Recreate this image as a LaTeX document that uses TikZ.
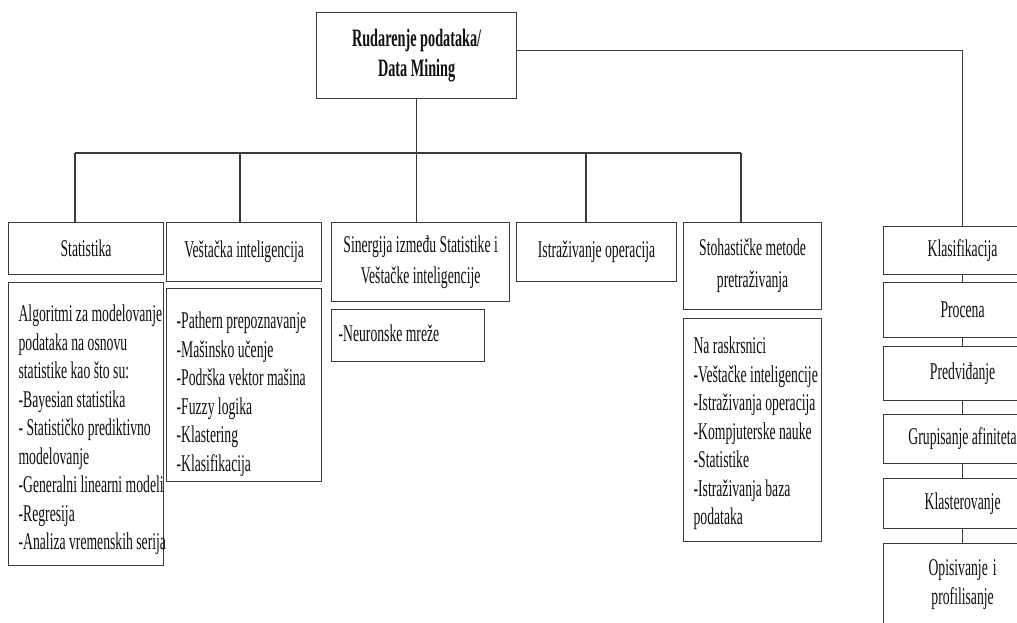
\documentclass[tikz,border=0pt]{standalone}
\usepackage{fontspec}
\setmainfont{Liberation Serif}[FakeStretch=0.57]
\definecolor{linec}{RGB}{58,58,58}
\definecolor{ink}{RGB}{15,15,15}
\begin{document}
\begin{tikzpicture}[x=1pt,y=-1pt,
  every node/.style={font=\fontsize{24}{28.5}\selectfont, text=ink},
  box/.style={draw=linec, line width=1.2pt, anchor=north west, inner sep=0pt, align=center,
    execute at begin node={\spaceskip=0pt\xspaceskip=0pt}},
  listbox/.style={draw=linec, line width=1.2pt, anchor=north west, inner sep=0pt, align=left,
    execute at begin node={\spaceskip=0pt\xspaceskip=0pt\leftskip=10pt\rightskip=-60pt plus 1fil}},
  conn/.style={draw=linec, line width=1.2pt}]
\clip (0,0) rectangle (1017,623);

% root
\node[box, font=\bfseries\fontsize{25}{30}\selectfont, minimum width=200pt, minimum height=86pt]
  (title) at (316,12) {Rudarenje podataka/\\Data Mining};

% first level
\node[box, minimum width=155pt, minimum height=52pt] (stat) at (8,222) {Statistika};
\node[box, minimum width=155pt, minimum height=59pt] (vest) at (166,222) {Veštačka inteligencija};
\node[box, font=\fontsize{24}{31}\selectfont, minimum width=178pt, minimum height=79pt]
  (sin) at (331,222) {Sinergija između Statistike i\\Veštačke inteligencije};
\node[box, minimum width=160pt, minimum height=59pt] (istr) at (516,222) {Istraživanje operacija};
\node[box, font=\fontsize{24}{32}\selectfont, minimum width=138pt, minimum height=87pt]
  (stoh) at (683,222) {Stohastičke metode\\pretraživanja};

% detail lists
\node[listbox, text width=155pt, text height=39pt, text depth=244pt] (statc) at (8,282)
  {Algoritmi za modelovanje\\podataka na osnovu\\statistike kao što su:\\-Bayesian statistika\\
   - Statističko prediktivno\\modelovanje\\-Generalni linearni modeli\\-Regresija\\
   -Analiza vremenskih serija};
\node[listbox, text width=155pt, text height=40pt, text depth=153pt] (vestc) at (166,288)
  {-Pathern prepoznavanje\\-Mašinsko učenje\\-Podrška vektor mašina\\-Fuzzy logika\\
   -Klastering\\-Klasifikacija};
\node[listbox, text width=153pt, text height=32pt, text depth=20pt,
  execute at begin node={\spaceskip=0pt\xspaceskip=0pt\leftskip=7pt\rightskip=-60pt plus 1fil}]
  (neur) at (331,309) {-Neuronske mreže};
\node[listbox, text width=138pt, text height=35pt, text depth=188pt] (stohc) at (683,318)
  {Na raskrsnici\\-Veštačke inteligencije\\-Istraživanja operacija\\-Kompjuterske nauke\\
   -Statistike\\-Istraživanja baza\\podataka};

% task column
\node[box, minimum width=158pt, minimum height=48pt] (klas) at (883,226) {Klasifikacija};
\node[box, minimum width=158pt, minimum height=55pt] (proc) at (883,282) {Procena};
\node[box, minimum width=158pt, minimum height=54pt] (pred) at (883,346) {Predviđanje};
\node[box, minimum width=158pt, minimum height=49pt] (grup) at (883,414) {Grupisanje afiniteta};
\node[box, minimum width=158pt, minimum height=50pt] (klast) at (883,478) {Klasterovanje};
\node[box, minimum width=158pt, text height=32pt, text depth=63pt, text width=158pt]
  (opis) at (883,543) {Opisivanje i\\profilisanje};

% bus to the first level
\coordinate (bus1) at (75,153);
\coordinate (bus2) at (240,153);
\coordinate (bus4) at (586,153);
\coordinate (bus5) at (741,153);
\draw[conn] (bus1) -- (bus5);
\draw[conn] (bus1) -- (bus1 |- stat.north);
\draw[conn] (bus2) -- (bus2 |- vest.north);
\draw[conn] (bus4) -- (bus4 |- istr.north);
\draw[conn] (bus5) -- (bus5 |- stoh.north);
\draw[conn] (title.south) -- (title.south |- sin.north);

% branch to the task column
\draw[conn] ([yshift=5pt]title.east) -| (klas.north);
\draw[conn] (klas) -- (proc);
\draw[conn] (proc) -- (pred);
\draw[conn] (pred) -- (grup);
\draw[conn] (grup) -- (klast);
\draw[conn] (klast) -- (opis);
\end{tikzpicture}
\end{document}
